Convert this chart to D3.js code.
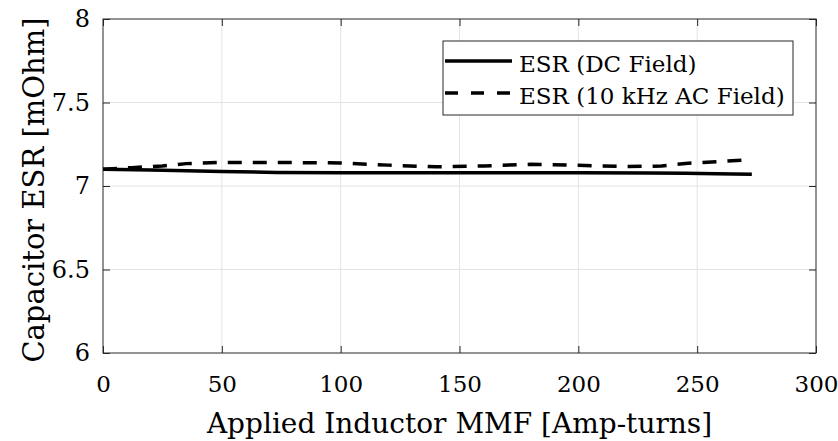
<!DOCTYPE html>
<html>

<head>
    <script src="https://d3js.org/d3.v7.min.js"></script>
    <style>
        body { margin: 0; background: #fff; }
    </style>
    <script>
        const w = 838
        const h = 441
        const margin = { top: 19, right: 22, bottom: 88, left: 103 }
        const serif = "DejaVu Serif"

        // tick values / labels
        const xTicks = [0, 50, 100, 150, 200, 250, 300]
        const yTicks = [6, 6.5, 7, 7.5, 8]

        // DC field series (mmf, esr)
        const dcMmf = [0, 20, 35, 50, 73, 100, 150, 200, 230, 245, 258, 273]
        const dcEsr = [7.101, 7.096, 7.091, 7.087, 7.081, 7.080, 7.079, 7.079, 7.078, 7.076, 7.073, 7.071]

        // 10 kHz AC field series
        const acMmf = [0, 12, 25, 35, 48, 75, 100, 120, 140, 160, 180, 200, 220, 235, 245, 258, 272]
        const acEsr = [7.100, 7.110, 7.120, 7.134, 7.141, 7.141, 7.138, 7.125, 7.115, 7.120, 7.130, 7.124, 7.116, 7.120, 7.135, 7.145, 7.157]

        const legendLabels = ["ESR (DC Field)", "ESR (10 kHz AC Field)"]

        function draw() {
            const svg = d3.select("body").append("svg")
                .attr("width", w)
                .attr("height", h)

            const x = d3.scaleLinear().domain([0, 300]).range([margin.left, w - margin.right])
            const y = d3.scaleLinear().domain([6, 8]).range([h - margin.bottom, margin.top])

            // grid
            svg.append("g").selectAll("line")
                .data(xTicks.slice(1, -1))
                .join("line")
                .attr("x1", d => x(d)).attr("x2", d => x(d))
                .attr("y1", margin.top).attr("y2", h - margin.bottom)
                .attr("stroke", "#e3e3e3").attr("stroke-width", 1)
            svg.append("g").selectAll("line")
                .data(yTicks.slice(1, -1))
                .join("line")
                .attr("x1", margin.left).attr("x2", w - margin.right)
                .attr("y1", d => y(d)).attr("y2", d => y(d))
                .attr("stroke", "#e3e3e3").attr("stroke-width", 1)

            // axes (ticks pointing inwards)
            const xAxis = svg.append("g")
                .attr("transform", `translate(0,${h - margin.bottom})`)
                .call(d3.axisBottom(x).tickValues(xTicks).tickSizeInner(-7).tickSizeOuter(0).tickPadding(23))
            const yAxis = svg.append("g")
                .attr("transform", `translate(${margin.left},0)`)
                .call(d3.axisLeft(y).tickValues(yTicks).tickFormat(d3.format("")).tickSizeInner(-7).tickSizeOuter(0).tickPadding(13))
            // top/right ticks
            svg.append("g")
                .attr("transform", `translate(0,${margin.top})`)
                .call(d3.axisTop(x).tickValues(xTicks).tickSizeInner(-7).tickSizeOuter(0).tickFormat(""))
            svg.append("g")
                .attr("transform", `translate(${w - margin.right},0)`)
                .call(d3.axisRight(y).tickValues(yTicks).tickSizeInner(-7).tickSizeOuter(0).tickFormat(""))

            svg.selectAll(".domain").remove()
            svg.selectAll(".tick line").attr("stroke", "#262626")
            xAxis.attr("font-family", serif).attr("font-size", 23)
            yAxis.attr("font-family", serif).attr("font-size", 24)
            xAxis.selectAll("text").attr("dy", "0.71em")
            svg.selectAll("text").attr("fill", "#000")

            // frame
            svg.append("rect")
                .attr("x", margin.left).attr("y", margin.top)
                .attr("width", w - margin.left - margin.right)
                .attr("height", h - margin.top - margin.bottom)
                .attr("fill", "none").attr("stroke", "#262626").attr("stroke-width", 1)

            // lines
            const line = d3.line().x(d => x(d[0])).y(d => y(d[1]))
            svg.append("path")
                .datum(dcMmf.map((m, i) => [m, dcEsr[i]]))
                .attr("d", line)
                .attr("fill", "none").attr("stroke", "#000").attr("stroke-width", 3.5)
            svg.append("path")
                .datum(acMmf.map((m, i) => [m, acEsr[i]]))
                .attr("d", line)
                .attr("fill", "none").attr("stroke", "#000").attr("stroke-width", 3.5)
                .attr("stroke-dasharray", "14,11")

            // axis labels
            svg.append("text")
                .attr("x", x(150)).attr("y", 433)
                .attr("text-anchor", "middle").attr("font-size", 28)
                .attr("font-family", serif)
                .text("Applied Inductor MMF [Amp-turns]")
            svg.append("text")
                .attr("transform", `translate(44,${y(7) + 4}) rotate(-90)`)
                .attr("text-anchor", "middle").attr("font-size", 29)
                .attr("font-family", serif)
                .text("Capacitor ESR [mOhm]")

            // legend
            const lg = svg.append("g")
            lg.append("rect")
                .attr("x", 443).attr("y", 41).attr("width", 350).attr("height", 74)
                .attr("fill", "#fff").attr("stroke", "#262626").attr("stroke-width", 1)
            legendLabels.forEach((t, i) => {
                const ly = 61 + i * 32
                lg.append("line")
                    .attr("x1", 445).attr("x2", 512).attr("y1", ly).attr("y2", ly)
                    .attr("stroke", "#000").attr("stroke-width", 3.5)
                    .attr("stroke-dasharray", i === 1 ? "13,13" : null)
                lg.append("text")
                    .attr("x", 519).attr("y", ly + 11)
                    .attr("font-size", 23)
                    .attr("font-family", serif)
                    .text(t)
            })
        }
    </script>
</head>

<body onload="draw()">
</body>

</html>
